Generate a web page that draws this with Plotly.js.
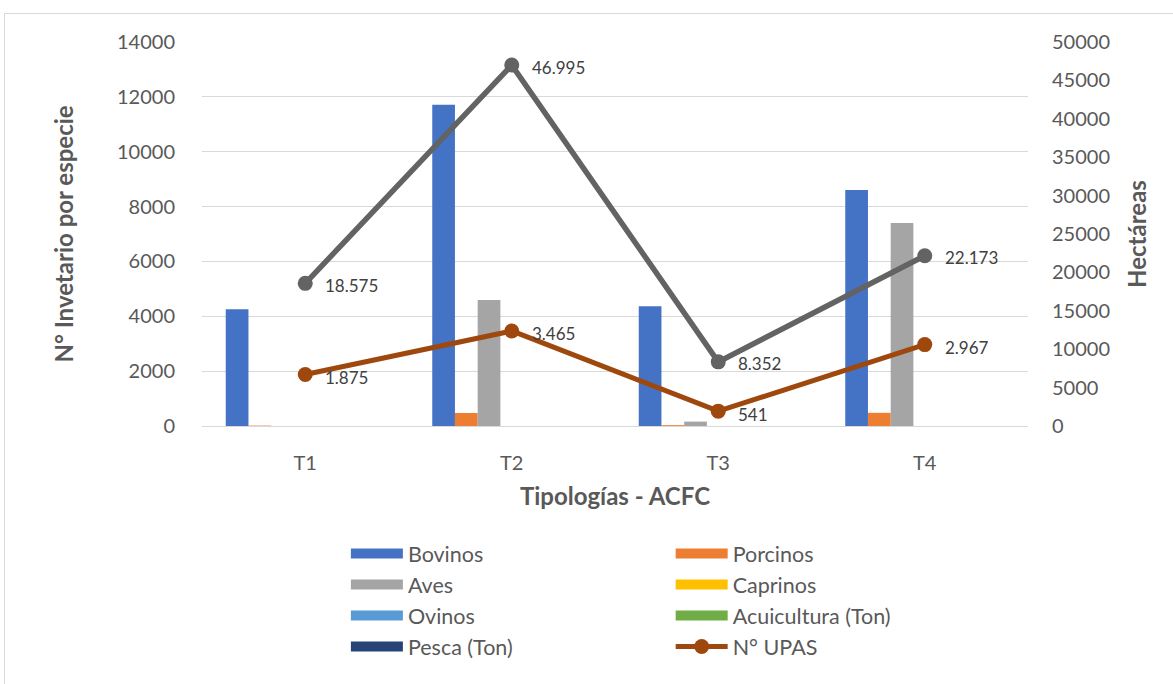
<!DOCTYPE html>
<html>
<head>
<meta charset="utf-8">
<script src="https://cdn.plot.ly/plotly-3.0.1.min.js"></script>
<style>
  html, body { margin: 0; padding: 0; background: #fff; }
  #frame { position: absolute; left: 4px; top: 13px; width: 1180px; height: 690px; border: 1px solid #d9d9d9; box-sizing: border-box; }
  #chart { position: absolute; left: 0; top: 0; width: 1173px; height: 684px; }
</style>
</head>
<body>
<div id="frame"></div>
<div id="chart"></div>
<script>
const categories = ['T1', 'T2', 'T3', 'T4'];
const bovinos = [4260, 11710, 4370, 8600];
const porcinos = [15, 475, 30, 480];
const aves = [0, 4590, 160, 7400];
const caprinos = [0, 0, 0, 0];
const ovinos = [0, 0, 0, 0];
const acuicultura = [0, 0, 0, 0];
const pesca = [0, 0, 0, 0];
const upas = [1875, 3465, 541, 2967];
const hectareas = [18575, 46995, 8352, 22173];
const leftTicks = [0, 2000, 4000, 6000, 8000, 10000, 12000, 14000];
const rightTicks = [0, 5000, 10000, 15000, 20000, 25000, 30000, 35000, 40000, 45000, 50000];

const FONT = 'Lato, "Open Sans", sans-serif';
const TXT = '#595959';

const barSeries = [
  { name: 'Bovinos', vals: bovinos, color: '#4472C4', legend: 'legend' },
  { name: 'Porcinos', vals: porcinos, color: '#ED7D31', legend: 'legend2' },
  { name: 'Aves', vals: aves, color: '#A5A5A5', legend: 'legend' },
  { name: 'Caprinos', vals: caprinos, color: '#FFC000', legend: 'legend2' },
  { name: 'Ovinos', vals: ovinos, color: '#5B9BD5', legend: 'legend' },
  { name: 'Acuicultura (Ton)', vals: acuicultura, color: '#70AD47', legend: 'legend2' },
  { name: 'Pesca (Ton)', vals: pesca, color: '#264478', legend: 'legend' }
];

const traces = [];
barSeries.forEach((s, i) => {
  traces.push({ type: 'bar', name: s.name, x: categories, y: s.vals, marker: { color: s.color },
                showlegend: false, legendgroup: 'g' + i, hoverinfo: 'y+name' });
});
// legend swatches (wide rectangles, as in the original) for the bar series
barSeries.forEach((s, i) => {
  traces.push({ type: 'scatter', mode: 'lines', name: s.name, x: [categories[0]], y: [null],
                line: { color: s.color, width: 16 }, legend: s.legend, legendgroup: 'g' + i,
                hoverinfo: 'skip' });
});
traces.push({ type: 'scatter', mode: 'lines+markers', name: 'N° UPAS', x: categories, y: upas,
    line: { color: '#9E480E', width: 5 }, marker: { color: '#9E480E', size: 15 },
    legend: 'legend2', legendgroup: 'h', yaxis: 'y' });
traces.push({ type: 'scatter', mode: 'lines+markers', name: 'Hectáreas', x: categories, y: hectareas,
    line: { color: '#636363', width: 5.5 }, marker: { color: '#636363', size: 15 },
    yaxis: 'y2', showlegend: false });

function fmt(n) { return n.toLocaleString('de-DE'); }
const annotations = [];
categories.forEach((c, i) => {
  annotations.push({ x: c, y: hectareas[i], xref: 'x', yref: 'y2', text: fmt(hectareas[i]),
    showarrow: false, xanchor: 'left', yanchor: 'middle', xshift: 18, yshift: -2,
    font: { family: FONT, size: 17, color: '#404040' } });
  annotations.push({ x: c, y: upas[i], xref: 'x', yref: 'y', text: fmt(upas[i]),
    showarrow: false, xanchor: 'left', yanchor: 'middle', xshift: 18, yshift: -3,
    font: { family: FONT, size: 17, color: '#404040' } });
});

const legendCommon = {
  orientation: 'v', bgcolor: 'rgba(0,0,0,0)', font: { family: FONT, size: 21.5, color: TXT },
  tracegroupgap: 0, itemwidth: 52, yanchor: 'top', xanchor: 'left', traceorder: 'normal'
};

const layout = {
  width: 1173, height: 684,
  margin: { l: 202, r: 145, t: 42, b: 258 },
  paper_bgcolor: 'rgba(0,0,0,0)', plot_bgcolor: 'rgba(0,0,0,0)',
  font: { family: FONT, size: 20, color: TXT },
  barmode: 'group', bargap: 0.23, bargroupgap: 0,
  xaxis: {
    type: 'category', tickfont: { family: FONT, size: 20, color: TXT },
    ticks: '', showgrid: false, showline: true, linecolor: '#d9d9d9', linewidth: 1,
    ticklabelstandoff: 19,
    title: { text: 'Tipologías - ACFC', font: { family: FONT, size: 24, color: TXT, weight: 'bold' }, standoff: 15 }
  },
  yaxis: {
    range: [0, 14000], tickvals: leftTicks, ticktext: leftTicks.map(String),
    tickfont: { family: FONT, size: 20, color: TXT }, ticks: '',
    showgrid: true, gridcolor: '#d9d9d9', gridwidth: 1, zeroline: false, showline: false,
    ticklabelstandoff: 26,
    title: { text: 'N° Invetario por especie', font: { family: FONT, size: 24, color: TXT, weight: 'bold' }, standoff: 36 }
  },
  yaxis2: {
    overlaying: 'y', side: 'right', range: [0, 50000], tickvals: rightTicks, ticktext: rightTicks.map(String),
    tickfont: { family: FONT, size: 20, color: TXT }, ticks: '', showgrid: false, zeroline: false, showline: false,
    ticklabelstandoff: 23,
    title: { text: 'Hectáreas', font: { family: FONT, size: 24, color: TXT, weight: 'bold' }, standoff: 20 }
  },
  legend: Object.assign({}, legendCommon, { x: 0.1742, y: -0.279 }),
  legend2: Object.assign({}, legendCommon, { x: 0.5674, y: -0.279 }),
  annotations: annotations,
  showlegend: true
};

Plotly.newPlot('chart', traces, layout, { displayModeBar: false, staticPlot: true });
</script>
</body>
</html>
